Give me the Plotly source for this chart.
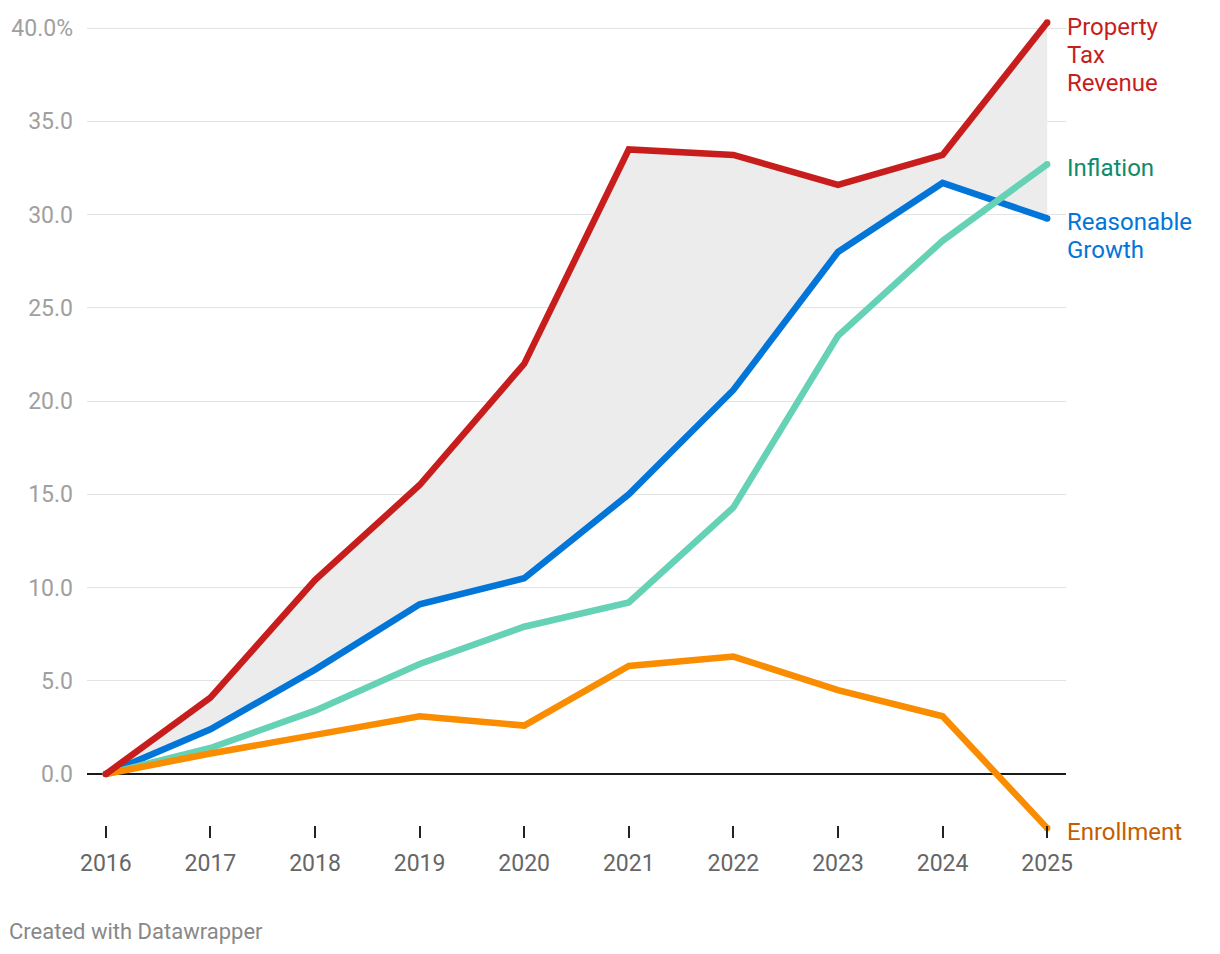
import plotly.graph_objects as go

years = [2016, 2017, 2018, 2019, 2020, 2021, 2022, 2023, 2024, 2025]
property_tax = [0, 4.1, 10.4, 15.5, 22.0, 33.5, 33.2, 31.6, 33.2, 40.3]
reasonable_growth = [0, 2.4, 5.6, 9.1, 10.5, 15.0, 20.6, 28.0, 31.7, 29.8]
inflation = [0, 1.4, 3.4, 5.9, 7.9, 9.2, 14.3, 23.5, 28.6, 32.7]
enrollment = [0, 1.1, 2.1, 3.1, 2.6, 5.8, 6.3, 4.5, 3.1, -2.9]

y_tickvals = [0, 5, 10, 15, 20, 25, 30, 35, 40]
y_ticktext = ["0.0", "5.0", "10.0", "15.0", "20.0", "25.0", "30.0", "35.0", "40.0%"]
x_tickvals = years
x_ticktext = [str(y) for y in years]

RED = "#c71e1d"
BLUE = "#0175d8"
TEAL = "#65d1b5"
ORANGE = "#fa8c00"
FONT = "Roboto"
LW = 6.5

fig = go.Figure()

# shaded band between Property Tax Revenue and Reasonable Growth
fig.add_trace(go.Scatter(x=years, y=reasonable_growth, mode="lines",
                         line=dict(width=0), hoverinfo="skip", showlegend=False))
fig.add_trace(go.Scatter(x=years, y=property_tax, mode="lines",
                         line=dict(width=0), fill="tonexty",
                         fillcolor="#ececec", hoverinfo="skip", showlegend=False))

series = [
    ("Reasonable Growth", reasonable_growth, BLUE),
    ("Inflation", inflation, TEAL),
    ("Enrollment", enrollment, ORANGE),
    ("Property Tax Revenue", property_tax, RED),
]
for name, vals, col in series:
    fig.add_trace(go.Scatter(x=years, y=vals, mode="lines", name=name,
                             line=dict(color=col, width=LW), showlegend=False))
    # round end caps
    fig.add_trace(go.Scatter(x=[years[0], years[-1]], y=[vals[0], vals[-1]],
                             mode="markers", marker=dict(color=col, size=LW),
                             hoverinfo="skip", showlegend=False))

labels = [
    (["Property", "Tax", "Revenue"], property_tax[-1], RED),
    (["Inflation"], inflation[-1], "#0e8a6c"),
    (["Reasonable", "Growth"], reasonable_growth[-1], BLUE),
    (["Enrollment"], enrollment[-1], "#c45d00"),
]
for lines, yv, col in labels:
    for i, text in enumerate(lines):
        fig.add_annotation(x=years[-1], y=yv, xref="x", yref="y", text=text,
                           showarrow=False, xanchor="left", yanchor="middle",
                           align="left", xshift=18, yshift=-4 - 28 * i,
                           font=dict(family=FONT, size=24, color=col))

fig.add_annotation(x=0, y=0, xref="paper", yref="paper",
                   text="Created with Datawrapper", showarrow=False,
                   xanchor="left", yanchor="middle", xshift=-80, yshift=-93,
                   font=dict(family=FONT, size=22, color="#888888"))

fig.update_layout(
    width=1220, height=954,
    margin=dict(l=79, r=162, t=9, b=124),
    paper_bgcolor="white", plot_bgcolor="white",
    font=dict(family=FONT),
    xaxis=dict(range=[2015.82, 2025.18], tickvals=x_tickvals, ticktext=x_ticktext,
               showgrid=False, zeroline=False, showline=False, automargin=False,
               ticks="inside", ticklen=12, tickwidth=2, tickcolor="#222222",
               tickfont=dict(family=FONT, size=23, color="#666666"),
               ticklabelstandoff=9),
    yaxis=dict(range=[-3.43, 40.6], tickvals=y_tickvals, ticktext=y_ticktext,
               showgrid=True, gridcolor="#e3e3e3", gridwidth=1, automargin=False,
               zeroline=True, zerolinecolor="#1a1a1a", zerolinewidth=1.5,
               showline=False, ticks="",
               tickfont=dict(family=FONT, size=23, color="#a0a0a0"),
               ticklabelstandoff=13),
)

fig.write_html("out.html")
